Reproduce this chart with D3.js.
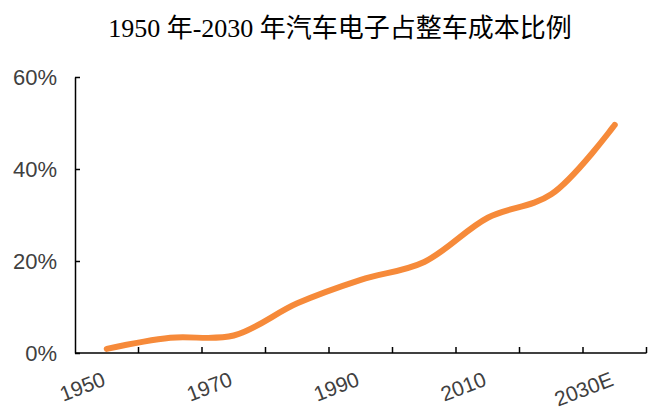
<!DOCTYPE html>
<html><head><meta charset="utf-8">
<script src="https://cdn.jsdelivr.net/npm/d3@7"></script>
<style>
body{margin:0;background:#fff;}
svg{display:block;}
</style></head>
<body>
<svg id="chart" width="660" height="411"></svg>
<script>
const title = "1950 年-2030 年汽车电子占整车成本比例";
const categories = ["1950","1960","1970","1980","1990","2000","2010","2020","2030E"];
const tickLabels = ["1950","1970","1990","2010","2030E"];
const values = [0.9, 3.3, 3.8, 10.8, 15.9, 19.8, 29.4, 34.5, 49.6];
const yTicks = [0, 20, 40, 60];

(function () {
const svg = d3.select("#chart");
const mLeft = 75, mRight = 646.5, mTop = 77, mBottom = 353;

const x = d3.scaleBand().domain(categories).range([mLeft, mRight]).paddingInner(0).paddingOuter(0);
const y = d3.scaleLinear().domain([0, 60]).range([mBottom, mTop]);

svg.append("text")
  .attr("x", 340).attr("y", 37)
  .attr("text-anchor", "middle")
  .style("font-family", "'Liberation Serif','Noto Sans CJK SC',serif")
  .style("font-size", "26px")
  .attr("fill", "#000")
  .text(title);

// Y axis
const yAxis = svg.append("g").attr("transform", `translate(${mLeft},0)`)
  .call(d3.axisLeft(y).tickValues(yTicks).tickSize(-5).tickSizeOuter(0).tickFormat(d => d + "%"));
yAxis.select(".domain").attr("stroke", "#000").attr("stroke-width", 1.5);
yAxis.selectAll(".tick line").attr("stroke", "#000").attr("stroke-width", 1.5);
yAxis.selectAll(".tick text")
  .attr("x", -18).attr("dy", "0.36em")
  .attr("fill", "#404040")
  .style("font-family", "'Liberation Sans',Arial,sans-serif")
  .style("font-size", "22px");

// X axis with ticks at category boundaries
const xg = svg.append("g").attr("transform", `translate(0,${mBottom})`);
xg.append("line").attr("x1", mLeft).attr("x2", mRight).attr("y1", 0).attr("y2", 0)
  .attr("stroke", "#000").attr("stroke-width", 1.5);
const bounds = categories.map(c => x(c) + x.bandwidth());
xg.selectAll("line.tk").data(bounds).enter().append("line").attr("class", "tk")
  .attr("x1", d => d).attr("x2", d => d).attr("y1", 0).attr("y2", -6)
  .attr("stroke", "#000").attr("stroke-width", 1.5);
xg.selectAll("text.lab").data(tickLabels).enter().append("text").attr("class", "lab")
  .attr("transform", d => `translate(${x(d) + x.bandwidth() / 2},32) rotate(-21)`)
  .attr("text-anchor", "end")
  .attr("fill", "#404040")
  .style("font-family", "'Liberation Sans',Arial,sans-serif")
  .style("font-size", "21px")
  .text(d => d);

// Line
const line = d3.line()
  .x((d, i) => x(categories[i]) + x.bandwidth() / 2)
  .y(d => y(d))
  .curve(d3.curveCatmullRom.alpha(0.5));
svg.append("path").datum(values)
  .attr("d", line)
  .attr("fill", "none")
  .attr("stroke", "#F68A3A")
  .attr("stroke-width", 6)
  .attr("stroke-linecap", "round")
  .attr("stroke-linejoin", "round");
})();
</script>
</body></html>
